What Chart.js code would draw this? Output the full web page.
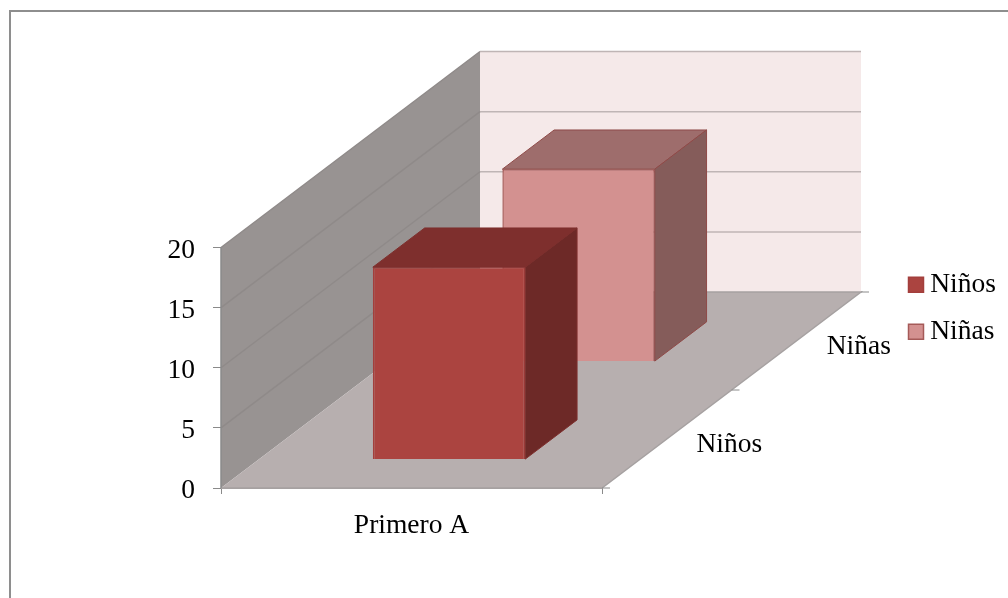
<!DOCTYPE html>
<html>
<head>
<meta charset="utf-8">
<script src="https://cdn.jsdelivr.net/npm/chart.js@4"></script>
<style>
html,body{margin:0;padding:0;background:#fff;}
#box{width:1008px;height:598px;position:relative;}
</style>
</head>
<body>
<div id="box"><canvas id="c"></canvas></div>
<script>
const categories = ["Primero A"];
const seriesNames = ["Niños", "Niñas"];
const ninos = [16];
const ninas = [16];
const yMin = 0;
const yMax = 20;
const yStep = 5;

const FONT = '"Liberation Serif", serif';
const FS = 27.5;
const DEPTH_X = 259, DEPTH_Y = 196;
const BAR_FRACTION = 0.4;
const depthStart = [0.145, 0.645];

const styles = [
  {front:'#ab4440', border:'#a33f3c', top:'#7e2f2d', side:'#6d2927', edge:'#7e2f2d'},
  {front:'#d39190', border:'#a55a58', top:'#9e6d6c', side:'#855c5a', edge:'#8f4a48'}
];

const threeD = {
  id:'threeD',
  beforeDraw(chart){
    const c = chart.ctx;
    c.save();
    c.strokeStyle = '#8e8e8e';
    c.lineWidth = 2;
    c.beginPath();
    c.moveTo(10,598); c.lineTo(10,11); c.lineTo(1008,11);
    c.stroke();
    c.restore();
  },
  afterLayout(chart){
    const lg = chart.legend;
    lg.left = 896; lg.right = 1008; lg.top = 251.5; lg.bottom = 400;
    const y = chart.scales.y;
    if (!y._shifted){
      y._shifted = true;
      const orig = y.drawLabels.bind(y);
      y.drawLabels = function(area){
        const c = chart.ctx;
        c.save(); c.translate(0,3); orig(area); c.restore();
      };
    }
  },
  beforeDatasetsDraw(chart){
    const c = chart.ctx, x = chart.scales.x, y = chart.scales.y;
    const l = x.left, r = x.right, t = y.getPixelForValue(yMax), b = y.getPixelForValue(yMin);
    const poly = (pts, fill) => {
      c.beginPath();
      pts.forEach((p,i)=> i? c.lineTo(p[0],p[1]) : c.moveTo(p[0],p[1]));
      c.closePath();
      c.fillStyle = fill; c.fill();
    };
    c.save();
    // back wall, side wall, floor
    poly([[l+DEPTH_X,t-DEPTH_Y],[r+DEPTH_X,t-DEPTH_Y],[r+DEPTH_X,b-DEPTH_Y],[l+DEPTH_X,b-DEPTH_Y]], '#f5e9e9');
    poly([[l,t],[l+DEPTH_X,t-DEPTH_Y],[l+DEPTH_X,b-DEPTH_Y],[l,b]], '#989392');
    poly([[l,b],[r,b],[r+DEPTH_X,b-DEPTH_Y],[l+DEPTH_X,b-DEPTH_Y]], '#b7afaf');
    // gridlines
    c.lineWidth = 1.5;
    for (let v = yMin + yStep; v <= yMax; v += yStep){
      const py = y.getPixelForValue(v);
      c.strokeStyle = '#8f8a89';
      c.beginPath(); c.moveTo(l,py); c.lineTo(l+DEPTH_X,py-DEPTH_Y); c.stroke();
      c.strokeStyle = '#bfb5b5';
      c.beginPath(); c.moveTo(l+DEPTH_X,py-DEPTH_Y); c.lineTo(r+DEPTH_X,py-DEPTH_Y); c.stroke();
    }
    // floor edges
    c.strokeStyle = '#a6a1a1';
    c.beginPath();
    c.moveTo(l,b); c.lineTo(r,b); c.lineTo(r+DEPTH_X,b-DEPTH_Y); c.lineTo(l+DEPTH_X,b-DEPTH_Y);
    c.stroke();
    c.strokeStyle = '#8a8a8a';
    c.beginPath();
    c.moveTo(l,t); c.lineTo(l,b);
    c.stroke();
    // depth axis ticks and labels
    c.lineWidth = 1;
    for (let i = 0; i <= seriesNames.length; i++){
      const f = i / seriesNames.length;
      const px = r + DEPTH_X*f, py = b - DEPTH_Y*f;
      c.beginPath(); c.moveTo(px,py); c.lineTo(px+8,py); c.stroke();
    }
    c.fillStyle = '#000';
    c.font = FS + 'px ' + FONT;
    c.textAlign = 'center';
    c.textBaseline = 'middle';
    seriesNames.forEach((s,i)=>{
      const f = (i+0.5)/seriesNames.length;
      c.fillText(s, r + DEPTH_X*f + 62.5, b - DEPTH_Y*f + 6);
    });
    c.restore();
  },
  beforeDatasetDraw(chart,args){
    const f = depthStart[args.index];
    chart.ctx.save();
    chart.ctx.translate(DEPTH_X*f, -DEPTH_Y*f);
  },
  afterDatasetDraw(chart,args){
    const c = chart.ctx, st = styles[args.index], bar = args.meta.data[0];
    const dx = DEPTH_X*BAR_FRACTION/seriesNames.length, dy = DEPTH_Y*BAR_FRACTION/seriesNames.length;
    const L = bar.x - bar.width/2, R = bar.x + bar.width/2, T = bar.y, B = bar.base;
    c.lineWidth = 1;
    c.strokeStyle = st.edge;
    c.beginPath();
    c.moveTo(L,T); c.lineTo(L+dx,T-dy); c.lineTo(R+dx,T-dy); c.lineTo(R,T); c.closePath();
    c.fillStyle = st.top; c.fill(); c.stroke();
    c.beginPath();
    c.moveTo(R,T); c.lineTo(R+dx,T-dy); c.lineTo(R+dx,B-dy); c.lineTo(R,B); c.closePath();
    c.fillStyle = st.side; c.fill(); c.stroke();
    c.restore();
  }
};

new Chart(document.getElementById('c'), {
  type:'bar',
  data:{
    labels:categories,
    datasets:[
      {label:seriesNames[0], data:ninos, backgroundColor:styles[0].front, borderColor:styles[0].border, borderWidth:1.5, grouped:false, clip:false, barPercentage:BAR_FRACTION, categoryPercentage:1},
      {label:seriesNames[1], data:ninas, backgroundColor:styles[1].front, borderColor:styles[1].border, borderWidth:1.5, grouped:false, clip:false, barPercentage:BAR_FRACTION, categoryPercentage:1}
    ]
  },
  plugins:[threeD],
  options:{
    responsive:true,
    maintainAspectRatio:false,
    animation:false,
    devicePixelRatio:1,
    layout:{padding:{left:0,top:247.5,right:406,bottom:0}},
    font:{family:FONT},
    scales:{
      x:{
        afterFit(s){ s.height = 110; },
        border:{display:true,color:'#a6a1a1'},
        grid:{drawOnChartArea:false,tickLength:6,color:'#8a8a8a'},
        ticks:{color:'#000',font:{family:FONT,size:FS},padding:15,maxRotation:0}
      },
      y:{
        min:yMin,max:yMax,
        afterFit(s){ s.width = 221; },
        border:{display:false},
        grid:{drawOnChartArea:false,tickLength:8,color:'#8a8a8a'},
        ticks:{color:'#000',font:{family:FONT,size:FS},stepSize:yStep,padding:18}
      }
    },
    plugins:{
      title:{display:false},
      tooltip:{enabled:false},
      legend:{
        position:'chartArea',
        align:'start',
        labels:{color:'#000',font:{family:FONT,size:FS},usePointStyle:true,pointStyle:'rect',boxWidth:1,boxHeight:15,padding:19.5}
      }
    }
  }
});
</script>
</body>
</html>
